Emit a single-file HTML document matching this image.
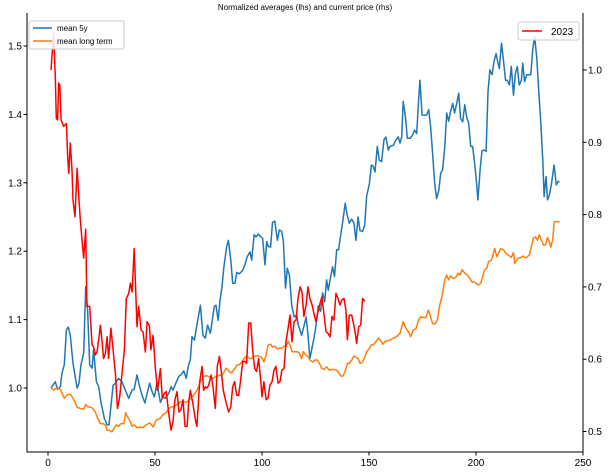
<!DOCTYPE html>
<html><head><meta charset="utf-8"><style>
html,body{margin:0;padding:0;background:#fff;}
svg{display:block;font-family:"Liberation Sans",sans-serif;}
</style></head><body>
<svg id="chart" width="612" height="472" viewBox="0 0 612 472">
<text x="305" y="10" font-size="8" text-anchor="middle" fill="#000">Normalized averages (lhs) and current price (rhs)</text>
<g id="plot"></g>
<g id="axes"></g>
<g>
<rect x="29" y="21" width="95" height="28" fill="#fff" fill-opacity="0.85" stroke="#ccc" rx="2"/>
<line x1="33" y1="28" x2="52" y2="28" stroke="#1f77b4" stroke-width="1.5"/>
<text x="57" y="31" font-size="8">mean 5y</text>
<line x1="33" y1="41" x2="52" y2="41" stroke="#ff7f0e" stroke-width="1.5"/>
<text x="57" y="44" font-size="8">mean long term</text>
</g>
<g>
<rect x="518" y="22" width="61" height="18" fill="#fff" fill-opacity="0.85" stroke="#ccc" rx="2"/>
<line x1="522" y1="31" x2="542" y2="31" stroke="red" stroke-width="1.5"/>
<text x="551" y="35" font-size="10">2023</text>
</g>
</svg>
<script>
const xTicks=[0,50,100,150,200,250];
const yLeftTicks=[1.0,1.1,1.2,1.3,1.4,1.5];
const yRightTicks=[0.5,0.6,0.7,0.8,0.9,1.0];
const blueX=[1.4,3.4,4.5,5.8,6.5,7.6,8.6,9.5,10.4,11.7,13.6,14.5,15.4,16.7,17.6,18.5,19.5,20.6,21.3,22.6,23.7,24.8,26.3,27.6,28.5,29.4,30.4,31.5,33.0,34.6,36.1,37.7,39.3,40.3,41.6,42.8,43.9,45.3,46.3,47.5,48.6,49.7,50.9,52.5,53.7,54.8,56.4,57.5,58.4,59.7,61.1,62.1,63.4,64.6,65.7,66.5,67.3,68.4,69.6,71.2,72.4,73.5,74.6,75.9,76.6,77.7,78.5,79.5,80.4,81.3,82.2,83.5,84.3,85.4,86.3,87.4,88.2,89.4,91.0,92.0,93.1,94.4,95.2,96.3,97.2,98.3,99.4,100.3,101.4,102.2,102.9,104.0,104.9,106.0,107.2,108.1,109.2,110.0,111.0,111.8,112.8,113.9,115.0,116.2,117.0,118.5,119.6,120.6,121.5,122.4,123.3,124.3,125.2,126.3,127.4,128.3,129.3,130.2,131.0,132.1,133.0,133.9,134.9,135.8,136.4,137.6,138.9,139.8,140.8,141.9,143.0,143.9,144.9,145.8,147.0,148.0,148.9,150.2,151.1,152.0,152.8,153.9,154.8,155.9,157.0,157.9,159.0,159.8,161.4,162.6,163.7,164.5,165.3,166.0,167.0,167.9,169.2,170.4,171.3,172.3,173.0,173.8,174.8,175.7,176.9,177.9,178.8,179.7,180.7,181.6,182.6,183.5,184.4,185.4,186.3,187.2,188.1,189.1,190.0,191.0,191.9,192.8,193.8,194.7,195.6,196.6,197.5,198.4,199.4,200.3,200.9,201.9,202.8,203.7,204.7,205.6,206.5,207.5,208.4,209.4,210.3,210.9,211.9,212.8,213.8,214.6,215.6,216.5,217.5,218.4,219.3,220.2,221.2,221.8,222.7,223.7,224.6,225.6,226.5,227.4,228.4,229.3,230.2,231.2,231.8,232.7,233.4,234.3,235.3,236.5,237.5,238.4,239.0];
const blueY=[1.000,1.009,0.998,1.002,1.021,1.034,1.085,1.089,1.077,1.036,1.000,1.007,1.034,1.051,1.148,1.114,1.034,1.029,1.056,1.009,1.002,0.978,0.956,0.946,0.946,0.973,1.004,1.007,1.014,1.009,0.997,0.985,0.997,0.998,1.019,1.002,0.990,0.978,0.992,1.007,0.995,0.987,1.007,0.979,0.987,0.985,0.992,1.002,0.997,1.007,1.017,1.019,1.025,1.014,1.034,1.041,1.075,1.070,1.092,1.121,1.077,1.073,1.092,1.080,1.095,1.119,1.121,1.099,1.129,1.148,1.177,1.207,1.216,1.187,1.153,1.153,1.169,1.167,1.172,1.180,1.192,1.199,1.187,1.224,1.221,1.225,1.221,1.219,1.180,1.214,1.207,1.206,1.242,1.244,1.216,1.231,1.229,1.214,1.146,1.175,1.165,1.121,1.104,1.107,1.092,1.077,1.090,1.104,1.077,1.043,1.058,1.073,1.090,1.120,1.112,1.139,1.126,1.158,1.143,1.163,1.177,1.163,1.202,1.202,1.216,1.241,1.270,1.253,1.241,1.247,1.241,1.216,1.250,1.230,1.229,1.238,1.280,1.299,1.326,1.324,1.316,1.353,1.333,1.331,1.363,1.367,1.348,1.353,1.355,1.363,1.367,1.358,1.367,1.419,1.397,1.365,1.365,1.370,1.377,1.372,1.411,1.450,1.399,1.399,1.399,1.407,1.382,1.343,1.299,1.277,1.289,1.314,1.319,1.353,1.402,1.390,1.404,1.416,1.402,1.416,1.431,1.394,1.389,1.414,1.397,1.387,1.353,1.353,1.328,1.299,1.275,1.319,1.347,1.348,1.346,1.433,1.465,1.458,1.477,1.489,1.475,1.467,1.504,1.480,1.450,1.450,1.443,1.470,1.428,1.460,1.470,1.443,1.450,1.475,1.448,1.458,1.458,1.458,1.494,1.514,1.482,1.436,1.392,1.333,1.280,1.309,1.275,1.282,1.299,1.326,1.297,1.302,1.301];
const orangeX=[1.4,2.6,3.9,5.8,7.6,8.9,10.4,11.7,12.8,13.6,15.1,16.7,17.6,18.5,19.8,21.0,22.1,23.2,24.5,25.7,26.8,27.6,28.8,29.9,31.0,31.9,33.0,34.1,35.4,36.3,36.9,38.2,39.3,40.3,41.6,42.8,44.4,45.9,47.5,49.1,50.6,52.5,53.7,55.3,56.4,57.5,58.7,59.9,61.1,62.1,63.4,64.6,65.7,66.8,68.1,69.3,70.4,71.2,72.7,74.3,75.5,77.1,78.5,79.6,80.7,81.9,83.2,84.3,85.4,86.3,87.4,88.5,89.4,90.5,91.6,92.5,93.6,94.4,95.2,95.9,97.2,98.3,99.8,100.9,101.9,102.9,104.0,104.9,106.0,107.2,108.1,109.2,110.3,111.2,112.3,113.1,114.1,115.4,116.5,117.4,118.5,119.3,120.5,121.5,122.4,123.7,124.8,125.9,126.8,127.9,129.0,130.2,131.5,132.5,133.6,134.9,136.1,137.1,138.0,138.9,139.9,140.8,141.9,143.0,143.9,144.9,145.8,147.0,148.0,148.9,150.2,151.1,152.0,153.3,154.4,155.5,156.4,157.5,158.6,159.8,161.4,162.9,164.5,166.0,167.3,168.4,169.5,170.7,172.0,173.1,174.1,175.4,176.6,177.7,178.8,179.7,181.0,181.9,182.9,184.1,185.4,186.3,187.2,188.1,189.4,190.6,191.6,192.5,193.5,194.7,196.0,197.2,198.1,199.4,200.3,201.2,202.2,203.1,204.0,205.0,205.9,206.9,207.8,208.7,209.7,210.6,211.5,212.8,214.0,215.3,216.5,217.5,218.1,219.0,219.9,221.2,222.1,223.1,224.0,225.0,225.9,226.8,227.7,228.7,229.6,230.6,231.5,232.4,233.4,234.3,234.9,235.9,236.5,237.7,239.0];
const orangeY=[1.000,0.997,1.000,0.998,0.985,0.990,0.991,0.985,0.978,0.972,0.970,0.969,0.976,0.973,0.972,0.970,0.965,0.956,0.948,0.948,0.946,0.938,0.938,0.936,0.942,0.946,0.944,0.948,0.948,0.964,0.959,0.953,0.944,0.946,0.942,0.943,0.942,0.946,0.949,0.943,0.953,0.956,0.961,0.964,0.970,0.972,0.973,0.975,0.978,0.980,0.980,0.979,0.982,0.985,0.990,0.995,1.002,1.009,1.017,1.018,1.016,1.014,1.017,1.018,1.019,1.021,1.029,1.026,1.022,1.024,1.029,1.034,1.034,1.038,1.043,1.046,1.045,1.043,1.043,1.046,1.047,1.047,1.045,1.038,1.048,1.063,1.064,1.060,1.061,1.057,1.058,1.058,1.061,1.061,1.068,1.063,1.053,1.053,1.053,1.051,1.043,1.053,1.048,1.046,1.041,1.038,1.041,1.041,1.036,1.029,1.027,1.031,1.026,1.027,1.027,1.026,1.021,1.017,1.018,1.025,1.036,1.036,1.041,1.047,1.045,1.043,1.036,1.038,1.045,1.053,1.058,1.063,1.063,1.068,1.073,1.069,1.064,1.068,1.069,1.070,1.073,1.075,1.080,1.097,1.087,1.082,1.075,1.085,1.087,1.099,1.104,1.103,1.103,1.114,1.104,1.094,1.094,1.099,1.119,1.134,1.158,1.165,1.158,1.164,1.160,1.162,1.168,1.165,1.173,1.168,1.165,1.160,1.155,1.155,1.152,1.151,1.153,1.163,1.173,1.175,1.185,1.186,1.192,1.204,1.192,1.197,1.204,1.202,1.197,1.194,1.191,1.198,1.182,1.187,1.190,1.191,1.193,1.190,1.192,1.195,1.207,1.219,1.221,1.216,1.224,1.216,1.209,1.209,1.220,1.214,1.206,1.217,1.243,1.243,1.243];
const redX=[1.4,2.6,3.4,3.9,4.5,5.0,5.5,6.1,7.3,8.6,9.2,9.7,10.4,11.2,11.7,12.6,13.6,14.3,15.1,15.9,16.7,17.6,18.2,19.5,20.6,21.3,22.1,22.9,23.7,24.5,25.2,26.0,26.8,27.6,28.3,29.4,30.4,31.5,32.5,33.5,34.6,35.7,36.6,37.7,38.5,39.3,40.3,41.6,42.4,43.5,44.4,45.5,46.3,47.4,48.1,49.1,50.2,51.2,52.5,53.4,54.4,55.3,56.4,57.5,58.4,59.3,60.3,61.2,62.1,63.1,64.0,65.0,65.7,66.5,67.8,68.9,69.6,70.9,72.0,72.7,73.5,74.3,75.1,76.2,77.1,78.2,79.1,80.1,81.0,81.9,82.9,83.8,84.4,85.4,86.3,87.2,88.2,89.1,90.0,91.0,91.9,92.8,93.8,94.7,95.6,96.6,97.5,98.4,99.4,100.0,100.9,101.9,102.8,103.7,104.7,105.6,106.5,107.5,108.4,109.3,110.3,111.2,112.2,113.1,114.0,115.0,115.9,116.8,117.8,118.7,119.6,120.6,121.5,122.4,123.4,124.3,125.2,126.2,127.1,128.0,129.0,129.9,130.8,131.8,132.7,133.6,134.6,135.5,136.4,137.4,138.3,139.2,139.9,140.8,141.9,142.7,143.6,144.2,145.2,146.1,147.0,148.1];
const redY=[1.000,1.051,0.991,0.933,0.931,0.982,0.979,0.931,0.922,0.926,0.880,0.857,0.899,0.862,0.820,0.797,0.864,0.829,0.793,0.765,0.740,0.780,0.673,0.673,0.620,0.617,0.606,0.610,0.627,0.647,0.627,0.601,0.608,0.631,0.601,0.643,0.613,0.580,0.532,0.548,0.580,0.613,0.684,0.691,0.705,0.693,0.753,0.645,0.673,0.640,0.638,0.610,0.652,0.646,0.613,0.633,0.587,0.557,0.587,0.546,0.553,0.555,0.525,0.502,0.514,0.544,0.555,0.527,0.530,0.544,0.507,0.507,0.539,0.557,0.537,0.516,0.507,0.569,0.590,0.557,0.562,0.560,0.564,0.578,0.562,0.532,0.590,0.604,0.583,0.557,0.544,0.534,0.527,0.534,0.562,0.569,0.550,0.550,0.571,0.597,0.597,0.594,0.650,0.650,0.613,0.587,0.583,0.601,0.571,0.548,0.569,0.544,0.546,0.564,0.569,0.585,0.590,0.567,0.569,0.585,0.587,0.624,0.643,0.661,0.624,0.652,0.654,0.684,0.700,0.693,0.659,0.675,0.700,0.684,0.675,0.663,0.652,0.666,0.677,0.686,0.661,0.638,0.636,0.631,0.659,0.654,0.691,0.684,0.675,0.682,0.684,0.668,0.627,0.661,0.661,0.650,0.636,0.622,0.645,0.647,0.684,0.680];

const NS='http://www.w3.org/2000/svg';
const L=27,R=583,T=13,B=452;
function xs(v){return 48+v*2.14;}
function yl(v){return 388-(v-1)*684;}
function yr(v){return 70-(v-1)*723;}
function mk(t,a,parent){const e=document.createElementNS(NS,t);for(const k in a)e.setAttribute(k,a[k]);parent.appendChild(e);return e;}
const plot=document.getElementById('plot');
const axes=document.getElementById('axes');
function line(xa,ya,yf,color,name){
  let d='';
  for(let i=0;i<xa.length;i++){d+=(i?'L':'M')+xs(xa[i]).toFixed(1)+','+yf(ya[i]).toFixed(1);}
  const p=mk('path',{d:d,fill:'none',stroke:color,'stroke-width':1.5,'stroke-linejoin':'round'},plot);
  
  
}
line(blueX,blueY,yl,'#1f77b4','series-mean-5y');
line(orangeX,orangeY,yl,'#ff7f0e','series-mean-long-term');
line(redX,redY,yr,'#ff0000','series-2023');
const frame=mk('path',{d:`M${L},${T}V${B}H${R}V${T}`,fill:'none',stroke:'#000','stroke-width':1},axes);


xTicks.forEach(v=>{
  const x=xs(v);
  const t=mk('line',{x1:x,y1:B,x2:x,y2:B+3.5,stroke:'#000'},axes);
  
  
  const tx=mk('text',{x:x,y:B+14,'font-size':10,'text-anchor':'middle'},axes);
  tx.textContent=v;
  
  
});
yLeftTicks.forEach(v=>{
  const y=yl(v);
  const t=mk('line',{x1:L-3.5,y1:y,x2:L,y2:y,stroke:'#000'},axes);
  
  
  const tx=mk('text',{x:L-5,y:y+3.5,'font-size':10,'text-anchor':'end'},axes);
  tx.textContent=v.toFixed(1);
  
  
});
yRightTicks.forEach(v=>{
  const y=yr(v);
  const t=mk('line',{x1:R,y1:y,x2:R+3.5,y2:y,stroke:'#000'},axes);
  
  
  const tx=mk('text',{x:R+5,y:y+3.5,'font-size':10,'text-anchor':'start'},axes);
  tx.textContent=v.toFixed(1);
  
  
});
</script>
</body></html>
